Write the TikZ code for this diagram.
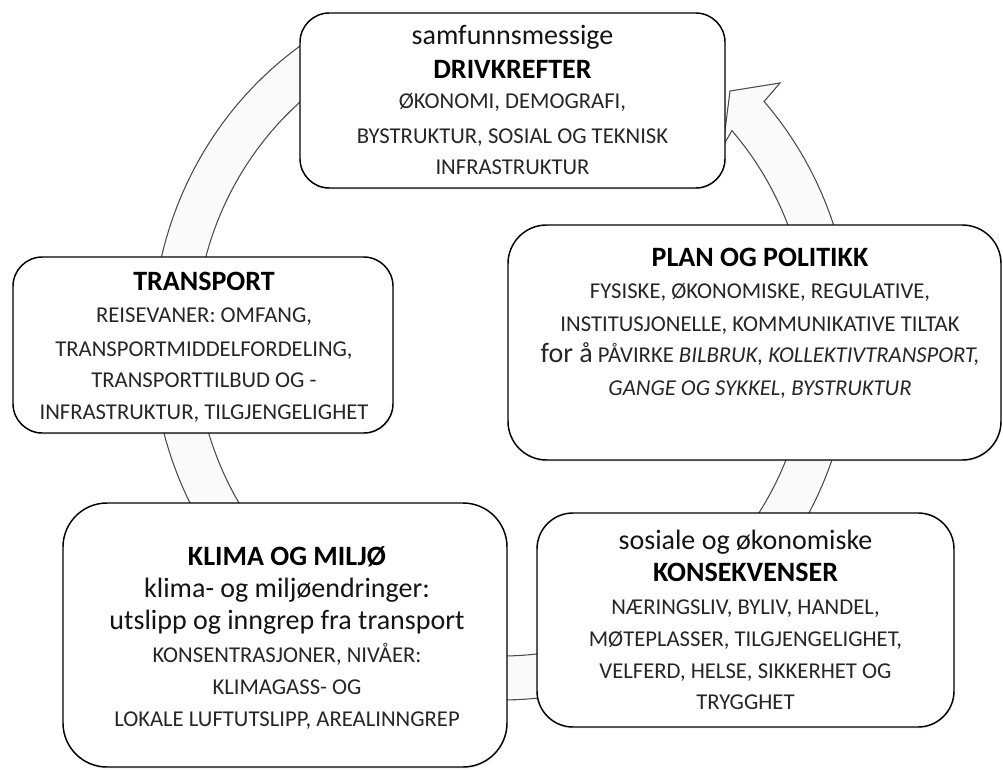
\documentclass[tikz,border=0pt]{standalone}
\usepackage{fontspec}
\setmainfont{Carlito}
\usetikzlibrary{shadows}
\begin{document}
\begin{tikzpicture}[x=0.75pt,y=-0.75pt,
  ringband/.style={draw=black!70,line width=0.8pt,fill=black!2,line join=miter},
  roundbox/.style={draw=black,line width=1.1pt,fill=white,rounded corners=#1,inner sep=0pt,
    drop shadow={shadow xshift=0.4pt,shadow yshift=-1.2pt,opacity=0.15,fill=black!50}},
  ttxt/.style={anchor=base,inner sep=0pt,font=\bfseries\fontsize{21}{25}\selectfont},
  ltxt/.style={anchor=base,inner sep=0pt,text=black!92,font=\fontsize{21}{25}\selectfont},
  ctxt/.style={anchor=base,inner sep=0pt,text=black!85,font=\fontsize{17}{20}\selectfont}]
\useasboundingbox (0,0) rectangle (1003,770);
% circular arrow
\path[ringband] plot[domain=118:401.5,samples=150,variable=\t] ({502+350*cos(\t)},{340-360*sin(\t)})
  -- (780,83) -- (730,91) -- (723,146)
  -- plot[domain=401.5:118,samples=150,variable=\t] ({502+307*cos(\t)},{340-316*sin(\t)}) -- cycle;
% boxes
\node[roundbox=22pt,minimum width={425*0.75pt},minimum height={175*0.75pt}] (drv) at (512.5,100.5) {};
\node[roundbox=22pt,minimum width={380*0.75pt},minimum height={176*0.75pt}] (tra) at (203,345) {};
\node[roundbox=33pt,minimum width={444*0.75pt},minimum height={264*0.75pt}] (kli) at (285,635) {};
\node[roundbox=27pt,minimum width={417*0.75pt},minimum height={214*0.75pt}] (kon) at (745.5,620) {};
\node[roundbox=29pt,minimum width={493*0.75pt},minimum height={235*0.75pt}] (pla) at (754.5,342.5) {};
% texts: drivkrefter
\node[ltxt] (d1) at (512.5,45) {samfunnsmessige};
\node[ttxt] (d2) at (512.5,79) {DRIVKREFTER};
\node[ctxt] (d3) at (512.5,109) {ØKONOMI, DEMOGRAFI,};
\node[ctxt] (d4) at (512.5,144) {BYSTRUKTUR, SOSIAL OG TEKNISK};
\node[ctxt] (d5) at (512.5,175) {INFRASTRUKTUR};
% transport
\node[ttxt] (t1) at (204,290) {TRANSPORT};
\node[ctxt] (t2) at (204,322) {REISEVANER: OMFANG,};
\node[ctxt] (t3) at (204,356) {TRANSPORTMIDDELFORDELING,};
\node[ctxt] (t4) at (204,387) {TRANSPORTTILBUD OG -};
\node[ctxt] (t5) at (204,419) {INFRASTRUKTUR, TILGJENGELIGHET};
% klima
\node[ttxt] (k1) at (287,565) {KLIMA OG MILJØ};
\node[ltxt] (k2) at (287,597) {klima- og miljøendringer:};
\node[ltxt] (k3) at (287,629) {utslipp og inngrep fra transport};
\node[ctxt] (k4) at (287,662) {KONSENTRASJONER, NIVÅER:};
\node[ctxt] (k5) at (287,694) {KLIMAGASS- OG};
\node[ctxt] (k6) at (287,726) {LOKALE LUFTUTSLIPP, AREALINNGREP};
% konsekvenser
\node[ltxt] (s1) at (745.5,549) {sosiale og økonomiske};
\node[ttxt] (s2) at (745.5,581) {KONSEKVENSER};
\node[ctxt] (s3) at (745.5,614) {NÆRINGSLIV, BYLIV, HANDEL,};
\node[ctxt] (s4) at (745.5,646) {MØTEPLASSER, TILGJENGELIGHET,};
\node[ctxt] (s5) at (745.5,678) {VELFERD, HELSE, SIKKERHET OG};
\node[ctxt] (s6) at (745.5,709) {TRYGGHET};
% plan
\node[ttxt] (p1) at (760,266) {PLAN OG POLITIKK};
\node[ctxt] (p2) at (760,298) {FYSISKE, ØKONOMISKE, REGULATIVE,};
\node[ctxt] (p3) at (760,331) {INSTITUSJONELLE, KOMMUNIKATIVE TILTAK};
\node[ctxt] (p4) at (760,362) {{\fontsize{21}{25}\selectfont for å} PÅVIRKE \textit{BILBRUK, KOLLEKTIVTRANSPORT,}};
\node[ctxt] (p5) at (760,395) {\textit{GANGE OG SYKKEL, BYSTRUKTUR}};
\end{tikzpicture}
\end{document}
